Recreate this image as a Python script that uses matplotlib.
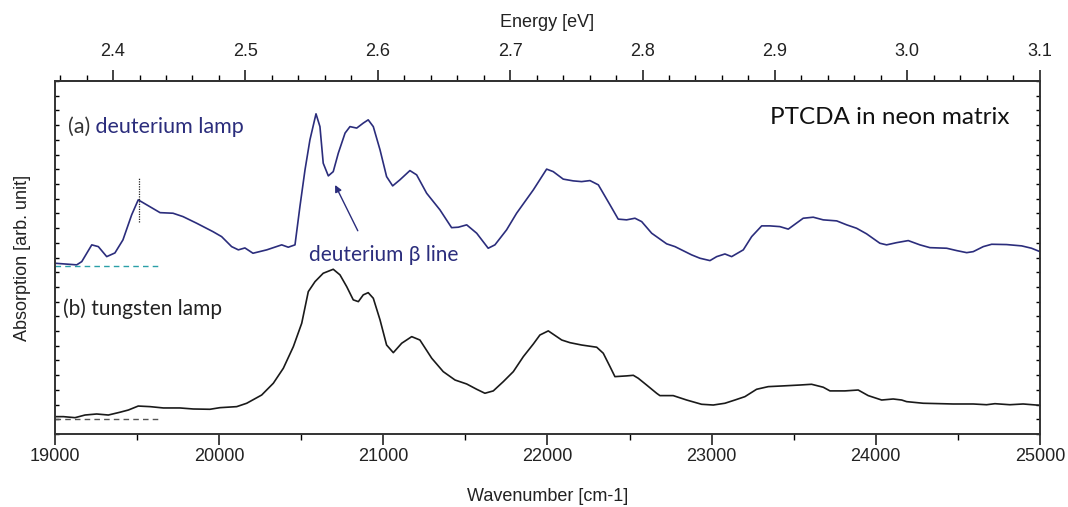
import numpy as np
import matplotlib
matplotlib.use("Agg")
import matplotlib.pyplot as plt
from matplotlib.ticker import MultipleLocator, FixedLocator, FormatStrFormatter, NullFormatter

# absorption spectra of PTCDA in neon matrix, wavenumber in cm-1, absorption in arb. units
wn_d2 = [19000, 19132, 19163, 19224, 19264, 19315, 19365, 19414, 19467, 19507,
         19559, 19640, 19719, 19780, 19863, 19962, 20015, 20076, 20117, 20157,
         20206, 20290, 20381, 20421, 20462, 20492, 20523, 20553, 20590, 20614,
         20634, 20665, 20695, 20726, 20767, 20797, 20838, 20878, 20908, 20939,
         20980, 21020, 21057, 21101, 21162, 21203, 21264, 21345, 21416, 21457,
         21508, 21569, 21639, 21680, 21751, 21812, 21914, 21995, 22035, 22096,
         22157, 22208, 22259, 22310, 22381, 22431, 22482, 22533, 22574, 22635,
         22726, 22777, 22878, 22929, 22990, 23031, 23081, 23122, 23193, 23244,
         23305, 23355, 23416, 23467, 23558, 23619, 23680, 23762, 23823, 23883,
         23944, 24025, 24066, 24127, 24198, 24269, 24330, 24432, 24493, 24554,
         24594, 24655, 24706, 24797, 24889, 24949, 25000]
abs_d2 = [11.61, 11.50, 11.72, 12.86, 12.74, 12.06, 12.31, 13.20, 14.90, 15.92,
          15.58, 15.05, 15.01, 14.78, 14.33, 13.76, 13.42, 12.74, 12.52, 12.65,
          12.29, 12.52, 12.86, 12.70, 12.86, 15.46, 17.96, 20.00, 21.77, 20.90,
          18.41, 17.55, 17.84, 19.10, 20.46, 20.90, 20.80, 21.14, 21.36, 20.90,
          19.32, 17.50, 16.87, 17.28, 17.91, 17.62, 16.37, 15.24, 14.03, 14.06,
          14.22, 13.65, 12.63, 12.86, 13.88, 15.01, 16.60, 18.01, 17.84, 17.33,
          17.21, 17.16, 17.23, 16.94, 15.58, 14.61, 14.56, 14.67, 14.44, 13.65,
          12.93, 12.74, 12.18, 11.95, 11.79, 12.06, 12.24, 12.06, 12.52, 13.42,
          14.15, 14.15, 14.10, 13.93, 14.67, 14.74, 14.56, 14.49, 14.22, 13.99,
          13.61, 12.97, 12.86, 13.01, 13.15, 12.86, 12.67, 12.63, 12.47, 12.33,
          12.40, 12.74, 12.90, 12.88, 12.79, 12.63, 12.40]

wn_w = [19000, 19051, 19122, 19183, 19254, 19325, 19396, 19447, 19507, 19579,
        19660, 19761, 19842, 19944, 20005, 20107, 20168, 20259, 20330, 20391,
        20452, 20503, 20543, 20584, 20634, 20695, 20736, 20777, 20817, 20848,
        20878, 20908, 20939, 20980, 21020, 21061, 21112, 21173, 21223, 21295,
        21365, 21437, 21508, 21569, 21619, 21670, 21731, 21792, 21853, 21914,
        21954, 22005, 22087, 22137, 22208, 22300, 22340, 22381, 22411, 22482,
        22523, 22553, 22604, 22665, 22685, 22766, 22848, 22939, 23010, 23081,
        23142, 23203, 23274, 23345, 23436, 23538, 23609, 23680, 23721, 23812,
        23893, 23954, 24036, 24106, 24158, 24188, 24289, 24472, 24594, 24675,
        24726, 24817, 24898, 25000]
abs_w = [1.18, 1.18, 1.11, 1.29, 1.36, 1.29, 1.48, 1.63, 1.90, 1.86,
         1.77, 1.77, 1.70, 1.68, 1.79, 1.86, 2.09, 2.65, 3.45, 4.47,
         5.94, 7.53, 9.68, 10.36, 10.93, 11.20, 10.82, 10.02, 9.12, 9.00,
         9.46, 9.61, 9.23, 7.76, 6.05, 5.53, 6.17, 6.62, 6.39, 5.15,
         4.24, 3.67, 3.40, 3.04, 2.77, 2.93, 3.56, 4.24, 5.26, 6.12,
         6.73, 7.01, 6.39, 6.21, 6.05, 5.90, 5.49, 4.58, 3.90, 3.95,
         3.99, 3.79, 3.33, 2.77, 2.61, 2.61, 2.31, 2.02, 1.97, 2.09,
         2.31, 2.54, 3.04, 3.22, 3.27, 3.33, 3.38, 3.18, 2.93, 2.93,
         2.99, 2.61, 2.31, 2.38, 2.31, 2.20, 2.09, 2.04, 2.04, 1.99,
         2.06, 1.99, 2.04, 1.95]

# energy axis ticks
ev_major = [2.4, 2.5, 2.6, 2.7, 2.8, 2.9, 3.0, 3.1]

# zero lines of both spectra
base_d2 = 11.43
base_w = 1.0
base_end = 19627

# 0-0 transition marker, deuterium beta line arrow
mark_wn = 19510
mark_lo, mark_hi = 14.43, 17.42
arrow_tip = (20699, 17.10)
arrow_tail = (20852, 13.65)

EV = 8064.0  # cm-1 per eV

navy = "#2b2d7c"
axfont = ["Liberation Sans", "DejaVu Sans"]
body = ["Lato", "DejaVu Sans"]

fig = plt.figure(figsize=(10.68, 5.07), dpi=100)
ax = fig.add_axes([0.0515, 0.144, 0.9222, 0.6962])

ax.plot(wn_d2, abs_d2, color=navy, lw=1.2)
ax.plot(wn_w, abs_w, color="#1a1a1a", lw=1.2)
ax.plot([19000, base_end], [base_d2, base_d2], ls=(0, (4, 3)), color="#2a9fa8", lw=1.0)
ax.plot([19000, base_end], [base_w, base_w], ls=(0, (4, 3)), color="#555555", lw=1.0)
ax.plot([mark_wn, mark_wn], [mark_lo, mark_hi], ls=(0, (1, 1)), color="#222222", lw=0.9)
ax.annotate("", xy=arrow_tip, xytext=arrow_tail,
            arrowprops=dict(arrowstyle="-|>", color=navy, lw=1.0, mutation_scale=10))

t_a = ax.text(19080, 20.9, "(a)", fontsize=15.5, family=body, color="#333333", va="center")
ax.annotate(" deuterium lamp", xy=(1, 0.5), xycoords=t_a, va="center", ha="left",
            fontsize=15.5, family=body, color=navy)
ax.text(19050, 8.5, "(b) tungsten lamp", fontsize=15, family=body, color="#222222",
        va="center")
ax.text(21004, 12.2, "deuterium β line", fontsize=15, family=body, color=navy,
        va="center", ha="center")
ax.text(24086, 21.5, "PTCDA in neon matrix", fontsize=17.5, family=body, color="#111111",
        va="center", ha="center")

ax.set_xlim(19000, 25000)
ax.set_ylim(0, 24)
ax.xaxis.set_major_locator(MultipleLocator(1000))
ax.xaxis.set_minor_locator(MultipleLocator(500))
ax.yaxis.set_major_locator(MultipleLocator(1))
ax.yaxis.set_major_formatter(NullFormatter())
ax.tick_params(axis="x", which="major", direction="out", length=8, width=1.2,
               pad=2, labelsize=13, colors="#222222")
ax.tick_params(axis="x", which="minor", direction="out", length=4, width=1.0)
ax.tick_params(axis="y", which="major", direction="in", length=3, width=1.0,
               left=True, right=True)
for lab in ax.get_xticklabels():
    lab.set_family(axfont)
for sp in ax.spines.values():
    sp.set_linewidth(1.4)
    sp.set_color("#333333")

ax.set_xlabel("Wavenumber [cm-1]", fontsize=13, family=axfont, labelpad=17, color="#222222")
ax.set_ylabel("Absorption [arb. unit]", fontsize=13, family=axfont, labelpad=14, color="#222222")

top = ax.secondary_xaxis("top", functions=(lambda w: w / EV, lambda e: e * EV))
top.xaxis.set_major_locator(FixedLocator(ev_major))
top.xaxis.set_minor_locator(MultipleLocator(0.02))
top.xaxis.set_major_formatter(FormatStrFormatter("%.1f"))
top.tick_params(axis="x", which="major", direction="out", length=8, width=1.2,
                pad=7, labelsize=13, colors="#222222")
top.tick_params(axis="x", which="minor", direction="out", length=4, width=1.0)
top.spines["top"].set_linewidth(1.4)
top.spines["top"].set_color("#333333")
for lab in top.xaxis.get_ticklabels():
    lab.set_family(axfont)
top.set_xlabel("Energy [eV]", fontsize=13, family=axfont, labelpad=12, color="#222222")

fig.savefig("out.png", dpi=100)
